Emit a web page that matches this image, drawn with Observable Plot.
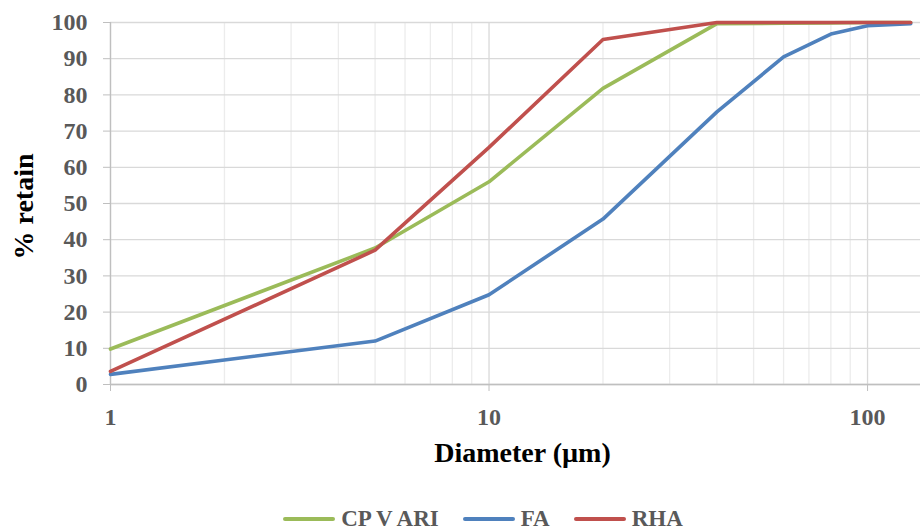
<!DOCTYPE html>
<html>
<head>
<meta charset="utf-8">
<script src="https://cdn.jsdelivr.net/npm/d3@7"></script>
<script src="https://cdn.jsdelivr.net/npm/@observablehq/plot@0.6"></script>
<style>
  body { margin: 0; background: #fff; }
  #legend { display: flex; justify-content: center; align-items: center; height: 20px; padding-top: 19px; box-sizing: content-box;
            font-family: "Liberation Serif", serif; font-weight: bold; font-size: 23px; line-height: 20px; color: #595959; padding-left: 44px; }
  .item { display: flex; align-items: center; margin: 0 12px; height: 20px; }
  .sw { display: inline-block; width: 52px; height: 4px; border-radius: 2px; margin-right: 6px; }
</style>
</head>
<body>
<div id="chart"></div>
<div id="legend"></div>
<script>
const diameters = [1, 5, 10, 20, 40, 60, 80, 100, 130];
const cpvAri = [9.8, 37.7, 56, 81.8, 99.7, 99.8, 99.9, 100, 100];
const fa = [2.8, 12, 24.8, 45.7, 75.3, 90.5, 96.8, 99.1, 99.7];
const rha = [3.6, 37.1, 65.5, 95.3, 100, 100, 100, 100, 100];
const seriesNames = ["CP V ARI", "FA", "RHA"];
const seriesColors = ["#9BBB59", "#4F81BD", "#C0504D"];
const majorX = [1, 10, 100];
const minorX = [2, 3, 4, 5, 6, 7, 8, 9, 20, 30, 40, 50, 60, 70, 80, 90];
const yTicks = [0, 10, 20, 30, 40, 50, 60, 70, 80, 90, 100];

const values = [cpvAri, fa, rha];
const data = [];
seriesNames.forEach((s, i) => diameters.forEach((d, j) => data.push({series: s, d, v: values[i][j]})));

const font = "Liberation Serif, serif";
const chart = Plot.plot({
  width: 922,
  height: 490,
  marginLeft: 110,
  marginRight: 2,
  marginTop: 22,
  marginBottom: 106,
  style: {fontFamily: font, fontSize: "24px", fontWeight: "bold", background: "#fff", overflow: "visible"},
  x: {type: "log", domain: [1, 138]},
  y: {domain: [0, 100]},
  color: {domain: seriesNames, range: seriesColors},
  marks: [
    Plot.ruleX(minorX, {stroke: "#ececec", strokeWidth: 1.3}),
    Plot.ruleX(majorX, {stroke: "#d9d9d9", strokeWidth: 1.3}),
    Plot.ruleY(yTicks, {stroke: "#d9d9d9", strokeWidth: 1.3}),
    Plot.ruleX([1], {stroke: "#bfbfbf", strokeWidth: 1.3}),
    Plot.ruleY([0], {stroke: "#bfbfbf", strokeWidth: 1.3}),
    Plot.axisY({ticks: yTicks, tickSize: 7, tickPadding: 16, stroke: "#bfbfbf", fill: "#595959", label: null, fontSize: 24, fontWeight: "bold"}),
    Plot.axisX({ticks: majorX, tickSize: 7, tickPadding: 16, tickFormat: d => String(d), stroke: "#bfbfbf", fill: "#595959", label: null, fontSize: 24, fontWeight: "bold"}),
    Plot.line(data, {x: "d", y: "v", z: "series", stroke: "series", strokeWidth: 3.6, strokeLinecap: "round", strokeLinejoin: "round"}),
    Plot.text(["% retain"], {frameAnchor: "left", textAnchor: "middle", dx: -86, dy: 3, rotate: -90, fill: "#000", fontSize: 28, fontWeight: "bold"}),
    Plot.text(["Diameter (µm)"], {frameAnchor: "bottom", textAnchor: "middle", dy: 77, dx: 7, fill: "#000", fontSize: 28, fontWeight: "bold"})
  ]
});
document.getElementById("chart").appendChild(chart);

const legend = document.getElementById("legend");
seriesNames.forEach((s, i) => {
  const item = document.createElement("div");
  item.className = "item";
  const sw = document.createElement("span");
  sw.className = "sw";
  sw.style.background = seriesColors[i];
  const t = document.createElement("span");
  t.textContent = s;
  item.appendChild(sw); item.appendChild(t);
  legend.appendChild(item);
});
</script>
</body>
</html>
